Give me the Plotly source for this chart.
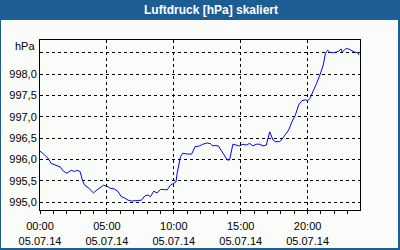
import plotly.graph_objects as go

times = ["00:00","00:35","00:50","01:15","01:30","01:45","02:00","02:20","02:35","02:45",
         "03:00","03:10","03:20","03:35","04:00","04:15","04:30","04:45","05:00","05:15",
         "05:35","05:50","06:05","06:20","06:35","06:50","07:15","07:35","07:50","08:05",
         "08:15","08:30","08:45","09:00","09:15","09:30","09:45","10:00","10:10","10:15",
         "10:30","10:40","11:00","11:20","11:35","11:55","12:10","12:30","12:45","12:55",
         "13:05","13:20","13:40","14:00","14:10","14:25","14:40","14:55","15:10","15:25",
         "15:40","15:55","16:10","16:25","16:40","16:55","17:10","17:25","17:35","17:55",
         "18:05","18:20","18:35","18:50","19:05","19:20","19:35","19:50","20:00","20:10",
         "20:25","20:40","20:55","21:10","21:20","21:30","21:40","21:55","22:10","22:20",
         "22:30","22:35","22:50","23:00","23:15","23:30","23:45","23:50"]
pressure = [996.20,996.04,995.91,995.86,995.83,995.73,995.68,995.75,995.72,995.75,
            995.72,995.52,995.40,995.35,995.22,995.29,995.34,995.40,995.38,995.33,
            995.31,995.25,995.13,995.10,995.05,995.03,995.04,995.05,995.15,995.17,
            995.13,995.26,995.22,995.30,995.30,995.29,995.40,995.44,995.48,995.68,
            996.07,996.15,996.13,996.13,996.30,996.32,996.36,996.39,996.37,996.32,
            996.33,996.32,996.16,995.99,995.99,996.36,996.34,996.32,996.36,996.34,
            996.38,996.32,996.36,996.36,996.32,996.34,996.65,996.46,996.42,996.42,
            996.48,996.58,996.69,996.89,997.04,997.28,997.38,997.40,997.38,997.43,
            997.59,997.78,997.98,998.21,998.49,998.56,998.51,998.50,998.52,998.54,
            998.59,998.52,998.59,998.60,998.56,998.52,998.50,998.45]
y_ticks = [995.0, 995.5, 996.0, 996.5, 997.0, 997.5, 998.0, 998.5]
y_tick_labels = ["995,0", "995,5", "996,0", "996,5", "997,0", "997,5", "998,0", ""]
day = "2014-07-05"
title = "Luftdruck [hPa] skaliert"
unit = "hPa"

x = [f"{day} {t}" for t in times]

BLUE = "#1c5e94"
BG = "#f9fcf9"
FONT = "Liberation Sans"

fig = go.Figure()
fig.add_trace(go.Scatter(x=x, y=pressure, mode="lines",
                         line=dict(color="#0000ff", width=1), hoverinfo="skip"))

# geometry: plot area px x 40..360, y 40..210
def px_x(p):
    return (p - 40) / 320
def px_y(p):
    return (210 - p) / 170

fig.update_layout(
    width=400, height=250,
    margin=dict(l=40, r=40, t=40, b=40),
    paper_bgcolor=BLUE, plot_bgcolor=BG,
    showlegend=False,
    font=dict(family=FONT, size=11, color="#000000"),
    shapes=[
        dict(type="rect", xref="paper", yref="paper", layer="below",
             x0=px_x(1), x1=px_x(398), y0=px_y(248), y1=px_y(20),
             fillcolor=BG, line=dict(width=0)),
    ],
    annotations=[
        dict(text=f"<b>{title}</b>", xref="paper", yref="paper",
             x=px_x(211), y=px_y(10), xanchor="center", yanchor="middle",
             showarrow=False, font=dict(family=FONT, size=12, color="white")),
        dict(text=unit, xref="paper", yref="paper",
             x=px_x(37), y=px_y(46.5), xanchor="right", yanchor="middle",
             showarrow=False, font=dict(family=FONT, size=11, color="black")),
    ],
)

fig.update_xaxes(
    type="date", automargin=False,
    range=[f"{day} 00:00", f"{day} 23:55"],
    tick0=f"{day} 00:00", dtick=5 * 3600000,
    tickformat="%H:%M<br>%d.%m.%y",
    ticks="outside", ticklen=3, tickcolor="black", tickwidth=1,
    ticklabelstandoff=3,
    showgrid=True, gridcolor="black", gridwidth=1, griddash="3px,3px",
    showline=True, linecolor="black", linewidth=1, mirror=True,
    minor=dict(dtick=3600000, ticks="outside", ticklen=3, tickcolor="black",
               showgrid=False),
    zeroline=False,
    tickfont=dict(family=FONT, size=11, color="black"),
)
fig.update_yaxes(
    range=[994.82, 998.80], automargin=False,
    tickvals=y_ticks, ticktext=y_tick_labels,
    ticks="", showgrid=True, gridcolor="black", gridwidth=1, griddash="3px,3px",
    showline=True, linecolor="black", linewidth=1, mirror=True,
    zeroline=False,
    tickfont=dict(family=FONT, size=11, color="black"),
)

fig.write_html("out.html")
